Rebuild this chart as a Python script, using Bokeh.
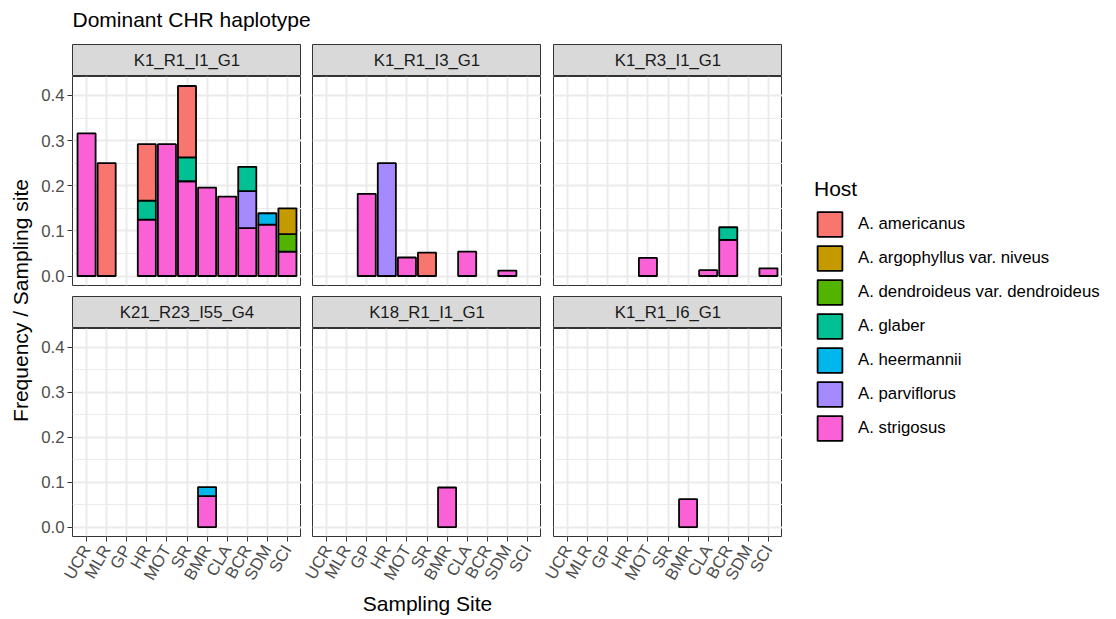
import math

from bokeh.core.properties import value
from bokeh.embed import file_html
from bokeh.layouts import column, row
from bokeh.models import (CategoricalTicker, ColumnDataSource, FactorRange, FixedTicker, Grid,
                          Legend, LegendItem, PrintfTickFormatter, Range1d)
from bokeh.plotting import figure
from bokeh.resources import INLINE

# ---------------------------------------------------------------- data
SITES = ["UCR", "MLR", "GP", "HR", "MOT", "SR", "BMR", "CLA", "BCR", "SDM", "SCI"]
HOSTS = ["A. americanus", "A. argophyllus var. niveus", "A. dendroideus var. dendroideus",
         "A. glaber", "A. heermannii", "A. parviflorus", "A. strigosus"]
HOST_COLORS = ["#F8766D", "#C49A00", "#53B400", "#00C094", "#00B6EB", "#A58AFF", "#FB61D7"]
HAPLOTYPES = ["K1_R1_I1_G1", "K1_R1_I3_G1", "K1_R3_I1_G1",
              "K21_R23_I55_G4", "K18_R1_I1_G1", "K1_R1_I6_G1"]
Y_TICKS = [0.0, 0.1, 0.2, 0.3, 0.4]
Y_MINOR = [0.05, 0.15, 0.25, 0.35]

# frequency per sampling site (in SITES order), split by host
FREQ_K1_R1_I1_G1 = {
    "A. americanus":                   [0, 0.25, 0, 0.125, 0, 0.158, 0, 0, 0, 0, 0],
    "A. argophyllus var. niveus":      [0, 0, 0, 0, 0, 0, 0, 0, 0, 0, 0.057],
    "A. dendroideus var. dendroideus": [0, 0, 0, 0, 0, 0, 0, 0, 0, 0, 0.039],
    "A. glaber":                       [0, 0, 0, 0.042, 0, 0.053, 0, 0, 0.054, 0, 0],
    "A. heermannii":                   [0, 0, 0, 0, 0, 0, 0, 0, 0, 0.025, 0],
    "A. parviflorus":                  [0, 0, 0, 0, 0, 0, 0, 0, 0.082, 0, 0],
    "A. strigosus":                    [0.316, 0, 0, 0.125, 0.292, 0.21, 0.196, 0.176, 0.106, 0.114, 0.054],
}
FREQ_K1_R1_I3_G1 = {
    "A. americanus":  [0, 0, 0, 0, 0, 0.052, 0, 0, 0, 0, 0],
    "A. parviflorus": [0, 0, 0, 0.25, 0, 0, 0, 0, 0, 0, 0],
    "A. strigosus":   [0, 0, 0.182, 0, 0.041, 0, 0, 0.054, 0, 0.012, 0],
}
FREQ_K1_R3_I1_G1 = {
    "A. glaber":    [0, 0, 0, 0, 0, 0, 0, 0, 0.028, 0, 0],
    "A. strigosus": [0, 0, 0, 0, 0.04, 0, 0, 0.013, 0.08, 0, 0.017],
}
FREQ_K21_R23_I55_G4 = {
    "A. heermannii": [0, 0, 0, 0, 0, 0, 0.02, 0, 0, 0, 0],
    "A. strigosus":  [0, 0, 0, 0, 0, 0, 0.069, 0, 0, 0, 0],
}
FREQ_K18_R1_I1_G1 = {
    "A. strigosus": [0, 0, 0, 0, 0, 0, 0.088, 0, 0, 0, 0],
}
FREQ_K1_R1_I6_G1 = {
    "A. strigosus": [0, 0, 0, 0, 0, 0, 0.062, 0, 0, 0, 0],
}
FREQUENCIES = dict(zip(HAPLOTYPES, [FREQ_K1_R1_I1_G1, FREQ_K1_R1_I3_G1, FREQ_K1_R3_I1_G1,
                                    FREQ_K21_R23_I55_G4, FREQ_K18_R1_I1_G1, FREQ_K1_R1_I6_G1]))

# ---------------------------------------------------------------- styling
FONT = "Liberation Sans"
SMALL = "16.8px"
LARGE = "21px"
GRID_COLOR = "#EBEBEB"
BORDER_COLOR = "#333333"
BAR_LINE = 1.8
TOTAL_W, TOTAL_H = 1116, 619
YLAB_W = 34
COL_WIDTH = [267, 240, 241]      # figure widths of the three facet columns
COL_LEFT = [38, 11, 12]          # left border of each facet column
FRAME_H = 209
HEADER_H = 44
STRIP_H = 32
TOP_GAP = 11
BOTTOM_AXIS = 54
FOOTER_H = TOTAL_H - HEADER_H - 2 * STRIP_H - (FRAME_H + TOP_GAP) - (FRAME_H + BOTTOM_AXIS)


def blank(width, height, **kw):
    """A figure with no axes, grid, title or toolbar, used as a drawing surface."""
    f = figure(width=width, height=height, title=None,
               x_axis_location=None, y_axis_location=None, toolbar_location=None,
               output_backend="svg", min_border_left=0, min_border_right=0,
               min_border_top=0, min_border_bottom=0, **kw)
    f.grid.visible = False
    return f


def stacked_segments(freqs):
    """One rectangle per (site, host) with a non-zero value, stacked bottom-up."""
    seg = dict(site=[], bottom=[], top=[], color=[])
    for i, site in enumerate(SITES):
        base = 0.0
        for host, color in reversed(list(zip(HOSTS, HOST_COLORS))):
            v = freqs.get(host, [0] * len(SITES))[i]
            if v > 0:
                seg["site"].append(site)
                seg["bottom"].append(base)
                seg["top"].append(base + v)
                seg["color"].append(color)
                base += v
    return seg


totals = [sum(vals[i] for vals in f.values()) for f in FREQUENCIES.values() for i in range(len(SITES))]
y_max = max(totals)
Y_START, Y_END = -0.05 * y_max, 1.05 * y_max


def strip(label, col):
    s = figure(width=COL_WIDTH[col], height=STRIP_H, title=None,
               x_range=Range1d(0, 1), y_range=Range1d(0, 1),
               x_axis_location=None, y_axis_location=None, toolbar_location=None,
               output_backend="svg", min_border_left=COL_LEFT[col], min_border_right=0,
               min_border_top=0, min_border_bottom=0,
               background_fill_color="#D9D9D9", border_fill_color="white",
               outline_line_color=BORDER_COLOR, outline_line_width=1)
    s.grid.visible = False
    s.text(x=[0.5], y=[0.5], text=[label], text_align="center", text_baseline="middle",
           text_font=value(FONT), text_font_size=SMALL, text_color="#1A1A1A")
    return s


def panel(label, r, col):
    bottom_row = r == 1
    p = figure(width=COL_WIDTH[col], height=FRAME_H + (BOTTOM_AXIS if bottom_row else TOP_GAP),
               title=None,
               x_range=FactorRange(factors=SITES, range_padding=0.2, range_padding_units="absolute"),
               y_range=Range1d(Y_START, Y_END),
               x_axis_location="below" if bottom_row else None,
               y_axis_location="left" if col == 0 else None,
               toolbar_location=None, output_backend="svg",
               min_border_left=COL_LEFT[col], min_border_right=0, min_border_top=0,
               min_border_bottom=BOTTOM_AXIS if bottom_row else TOP_GAP,
               background_fill_color="white", border_fill_color="white",
               outline_line_color=BORDER_COLOR, outline_line_width=1)
    p.center = [c for c in p.center if not isinstance(c, Grid)]
    p.add_layout(Grid(dimension=0, ticker=CategoricalTicker(), grid_line_color=GRID_COLOR,
                      grid_line_width=2))
    p.add_layout(Grid(dimension=1, ticker=FixedTicker(ticks=Y_TICKS, minor_ticks=Y_MINOR),
                      grid_line_color=GRID_COLOR, grid_line_width=2,
                      minor_grid_line_color=GRID_COLOR, minor_grid_line_width=1))

    src = ColumnDataSource(stacked_segments(FREQUENCIES[label]))
    p.vbar(x="site", bottom="bottom", top="top", width=0.9, source=src,
           fill_color="color", line_color="black", line_width=BAR_LINE)

    for ax in p.axis:
        ax.axis_line_color = None
        ax.major_tick_line_color = BORDER_COLOR
        ax.major_tick_in = 0
        ax.major_tick_out = 5
        ax.minor_tick_in = 0
        ax.minor_tick_out = 0
        ax.major_label_text_font = FONT
        ax.major_label_text_font_size = SMALL
        ax.major_label_text_color = "#4D4D4D"
        ax.major_label_standoff = 3
    if col == 0:
        p.yaxis.ticker = FixedTicker(ticks=Y_TICKS)
        p.yaxis.formatter = PrintfTickFormatter(format="%.1f")
    if bottom_row:
        p.xaxis.major_label_orientation = math.pi / 3
        p.xaxis.major_label_standoff = 5
    return column(strip(label, col), p, spacing=0)


facets = [panel(h, k // 3, k % 3) for k, h in enumerate(HAPLOTYPES)]
grid_w = sum(COL_WIDTH)
panels_left = COL_LEFT[0]
panels_right = grid_w

# plot title
header = blank(grid_w, HEADER_H, x_range=Range1d(0, grid_w), y_range=Range1d(0, HEADER_H),
               outline_line_color=None)
header.text(x=[panels_left], y=[HEADER_H - 19], text=["Dominant CHR haplotype"], text_align="left",
            text_baseline="middle", text_font=value(FONT), text_font_size=LARGE,
            text_color="black")

# x axis title, centred under the facet panels
footer = blank(grid_w, FOOTER_H, x_range=Range1d(0, grid_w), y_range=Range1d(0, FOOTER_H),
               outline_line_color=None)
footer.text(x=[(panels_left + panels_right) / 2], y=[TOTAL_H - 603], text=["Sampling Site"],
            text_align="center", text_baseline="middle", text_font=value(FONT),
            text_font_size=LARGE, text_color="black")

# shared y axis title
ylab = blank(YLAB_W, TOTAL_H, x_range=Range1d(0, YLAB_W), y_range=Range1d(0, TOTAL_H),
             outline_line_color=None)
ylab.text(x=[20], y=[TOTAL_H - 300], text=["Frequency / Sampling site"], angle=math.pi / 2,
          text_align="center", text_baseline="middle", text_font=value(FONT),
          text_font_size=LARGE, text_color="black")

# host legend: proxy bars with undefined extent, so only their legend keys are drawn
leg_w = TOTAL_W - YLAB_W - grid_w
leg = blank(leg_w, TOTAL_H, x_range=Range1d(0, 1), y_range=Range1d(0, 1), outline_line_color=None)
items = []
for host, color in zip(HOSTS, HOST_COLORS):
    r = leg.vbar(x=[0.5], bottom=[float("nan")], top=[float("nan")], width=0.9,
                 fill_color=color, line_color="black", line_width=BAR_LINE)
    items.append(LegendItem(label=host, renderers=[r]))
legend = Legend(items=items, location="left", title="Host", margin=32, padding=0,
                glyph_width=31, glyph_height=31, spacing=3, label_standoff=13,
                label_text_font=FONT, label_text_font_size=SMALL, label_text_color="black",
                title_text_font=FONT, title_text_font_size=LARGE, title_text_font_style="normal",
                title_text_color="black", title_standoff=8,
                border_line_color=None, background_fill_alpha=0)
leg.add_layout(legend)

layout = row(
    ylab,
    column(header, row(*facets[:3], spacing=0), row(*facets[3:], spacing=0), footer, spacing=0),
    leg,
    spacing=0,
)

open("out.html", "w").write(file_html(layout, INLINE))
